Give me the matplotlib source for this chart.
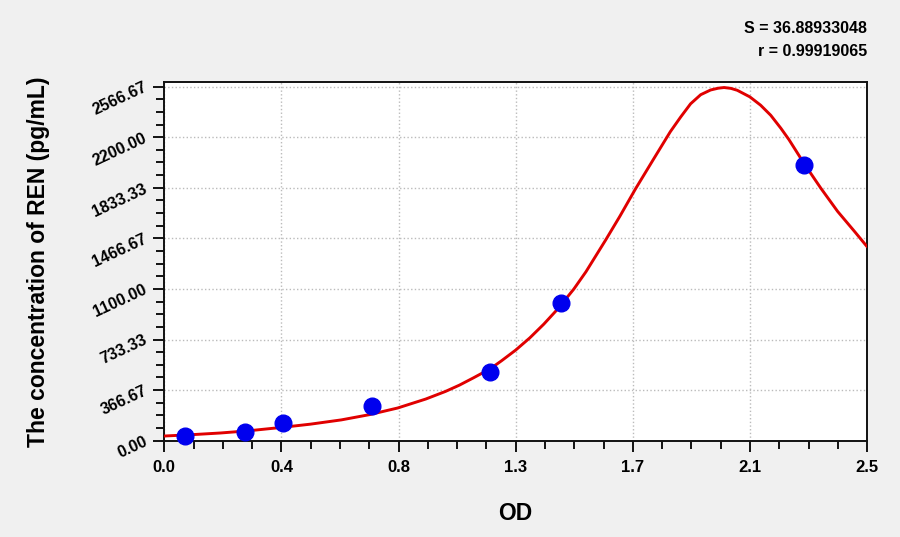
import numpy as np
import matplotlib
matplotlib.use("Agg")
import matplotlib.pyplot as plt
from matplotlib.ticker import AutoMinorLocator

# ---- data: standards ----
od = [0.075, 0.288, 0.423, 0.740, 1.160, 1.412, 2.276]
conc = [31.25, 62.5, 125, 250, 500, 1000, 2000]

# ---- fitted curve ----
curve_od = [0.00, 0.10, 0.20, 0.30, 0.42, 0.52, 0.63, 0.73, 0.83, 0.93, 1.00,
            1.05, 1.10, 1.16, 1.20, 1.25, 1.30, 1.35, 1.40, 1.457, 1.50, 1.57,
            1.62, 1.676, 1.74, 1.77, 1.80, 1.837, 1.872, 1.908, 1.943, 1.97,
            1.991, 2.015, 2.038, 2.083, 2.121, 2.157, 2.193, 2.222, 2.276,
            2.335, 2.395, 2.455, 2.50]
curve_conc = [34, 44, 56, 72, 97, 120, 151, 189, 237, 302, 357,
              403, 456, 522, 580, 657, 745, 845, 956, 1100, 1225, 1455,
              1625, 1825, 2040, 2140, 2240, 2347, 2442, 2508, 2542, 2555,
              2560, 2554, 2540, 2492, 2432, 2359, 2265, 2182, 2008,
              1831, 1662, 1517, 1406]

x_ticks = [0.0, 2.5 / 6, 5.0 / 6, 1.25, 2.5 * 4 / 6, 2.5 * 5 / 6, 2.5]
x_tick_labels = ["0.0", "0.4", "0.8", "1.3", "1.7", "2.1", "2.5"]
y_ticks = [0, 366.67, 733.33, 1100.00, 1466.67, 1833.33, 2200.00, 2566.67]
y_tick_labels = ["0.00", "366.67", "733.33", "1100.00", "1466.67", "1833.33", "2200.00", "2566.67"]
s_text = "S = 36.88933048"
r_text = "r = 0.99919065"

plt.rcParams['font.family'] = ['Liberation Sans', 'DejaVu Sans']
bg = '#f0f0f0'
fig = plt.figure(figsize=(9, 5.37), dpi=100, facecolor=bg)
ax = fig.add_axes([0.1825, 0.1793, 0.7810, 0.6680])
ax.set_facecolor('white')

ax.plot(curve_od, curve_conc, color='#e00000', lw=2.1, zorder=3,
        solid_joinstyle='round', solid_capstyle='round', antialiased=True)
ax.plot(od, conc, 'o', color='#0000ee', markersize=12, zorder=4, clip_on=False)

ax.set_xlim(0, 2.5)
ax.set_ylim(0, 2600)
ax.set_xticks(x_ticks)
ax.set_xticklabels(x_tick_labels, fontsize=12, fontweight='bold')
ax.set_yticks(y_ticks)
ax.set_yticklabels(y_tick_labels, fontsize=11.5, fontweight='bold',
                   rotation=25, rotation_mode='anchor', ha='right', va='center')
ax.xaxis.set_minor_locator(AutoMinorLocator(4))
ax.yaxis.set_minor_locator(AutoMinorLocator(4))
ax.tick_params(which='major', direction='out', length=8, width=1.4, color='#111111')
ax.tick_params(which='minor', direction='out', length=6, width=1.4, color='#111111')
ax.tick_params(axis='x', which='major', pad=6)
ax.tick_params(axis='y', which='major', pad=5)
ax.grid(True, which='major', linestyle=':', color='#bbbbbb', lw=1.0)
for s in ax.spines.values():
    s.set_linewidth(1.4)
    s.set_color('#111111')

ax.set_xlabel('OD', fontsize=16.5, fontweight='bold', labelpad=19)
ax.set_ylabel('The concentration of REN (pg/mL)', fontsize=16.5, fontweight='bold', labelpad=29)

fig.text(0.9633, 0.946, s_text, ha='right', va='center', fontsize=11.5, fontweight='bold')
fig.text(0.9633, 0.905, r_text, ha='right', va='center', fontsize=11.5, fontweight='bold')

fig.savefig('out.png', dpi=100, facecolor=bg)
